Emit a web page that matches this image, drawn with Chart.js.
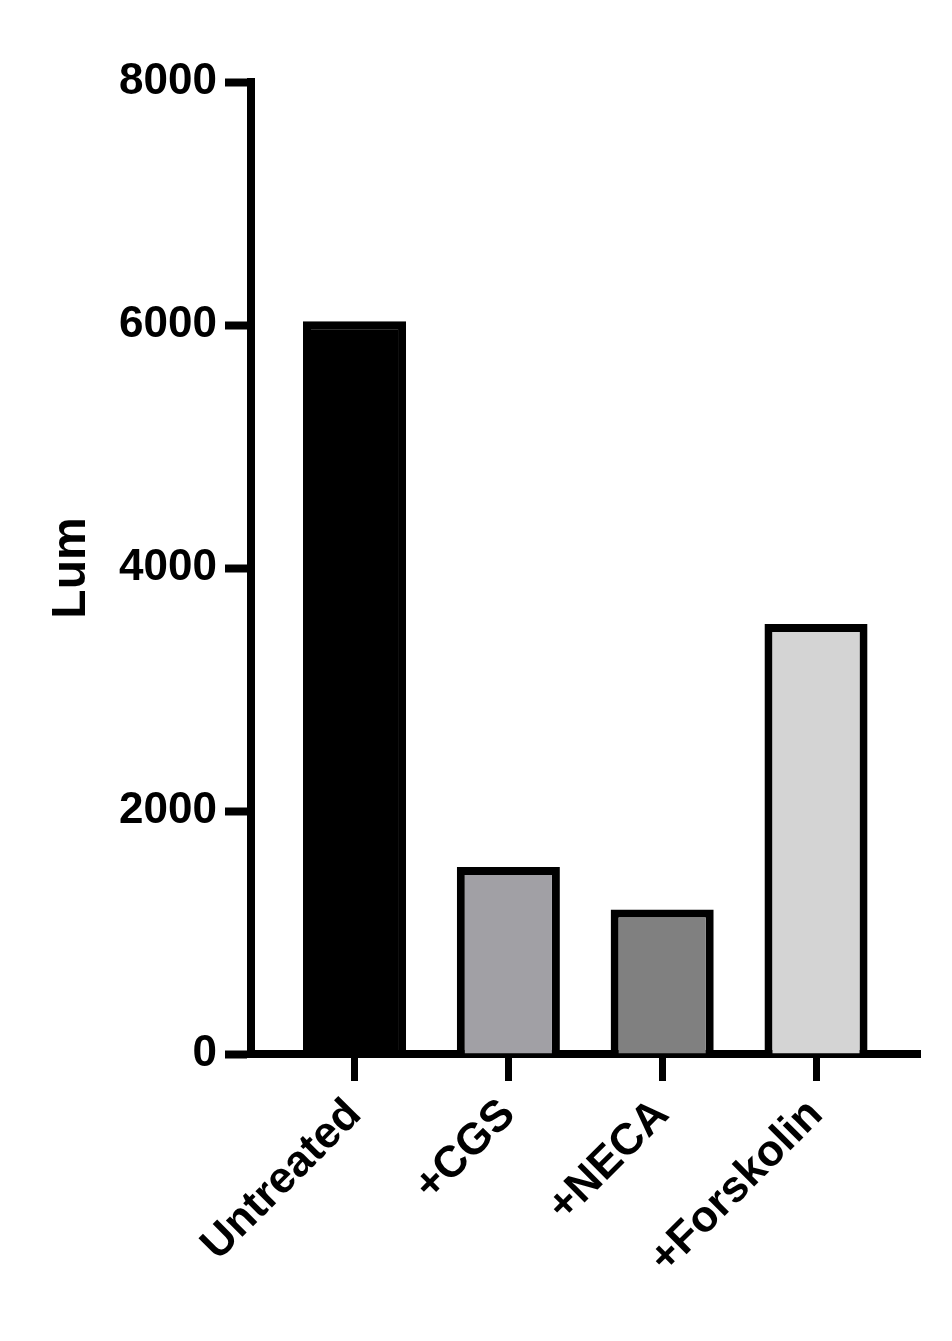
<!DOCTYPE html>
<html>
<head>
<meta charset="utf-8">
<script src="https://cdn.jsdelivr.net/npm/chart.js@4/dist/chart.umd.min.js"></script>
<style>
  html, body { margin: 0; padding: 0; background: #fff; }
  #wrap { width: 952px; height: 1341px; }
</style>
</head>
<body>
<div id="wrap"><canvas id="chart" width="952" height="1341"></canvas></div>
<script>
const categories = ["Untreated", "+CGS", "+NECA", "+Forskolin"];
const lumValues = [6030, 1540, 1190, 3540];
const barColors = ["#000000", "#a1a0a5", "#808080", "#d4d4d4"];
const yTicks = [0, 2000, 4000, 6000, 8000];

const font = "'Liberation Sans', Arial, Helvetica, sans-serif";
const ctx = document.querySelector("#chart").getContext("2d");

const chart = new Chart(ctx, {
  type: "bar",
  data: {
    datasets: [{
      label: "Lum",
      data: lumValues.map((v, i) => ({ x: i, y: v })),
      backgroundColor: barColors,
      borderColor: "#000",
      borderWidth: 8,
      borderSkipped: "start",
      barPercentage: 0.67,
      categoryPercentage: 1
    }]
  },
  options: {
    responsive: false,
    animation: false,
    layout: { padding: { top: 82, right: 32, bottom: 0, left: 0 } },
    plugins: { legend: { display: false }, tooltip: { enabled: false } },
    scales: {
      x: {
        type: "linear",
        offset: false,
        min: -0.673,
        max: 3.676,
        afterBuildTicks: (scale) => {
          scale.ticks = categories.map((_, i) => ({ value: i }));
        },
        afterFit: (scale) => { scale.height = 287; },
        grid: { offset: false, drawOnChartArea: false, drawTicks: true, tickLength: 27, tickWidth: 7, tickColor: "#000" },
        border: { display: true, color: "#000", width: 8 },
        ticks: {
          color: "#000",
          font: { family: font, size: 44, weight: "bold" },
          minRotation: 45,
          maxRotation: 45,
          padding: 8,
          callback: (v) => categories[v]
        }
      },
      y: {
        min: 0,
        max: 8000,
        afterBuildTicks: (scale) => {
          scale.ticks = yTicks.map(v => ({ value: v }));
        },
        afterFit: (scale) => { scale.width = 251; },
        grid: { drawOnChartArea: false, drawTicks: true, tickLength: 26, tickWidth: 8, tickColor: "#000" },
        border: { display: true, color: "#000", width: 8 },
        ticks: {
          color: "#000",
          font: { family: font, size: 44, weight: "bold" },
          padding: 8,
          callback: (v) => String(v)
        },
        title: {
          display: true,
          text: "Lum",
          color: "#000",
          font: { family: font, size: 48, weight: "bold" },
          padding: { top: 43, bottom: 0 }
        }
      }
    }
  }
});
</script>
</body>
</html>
